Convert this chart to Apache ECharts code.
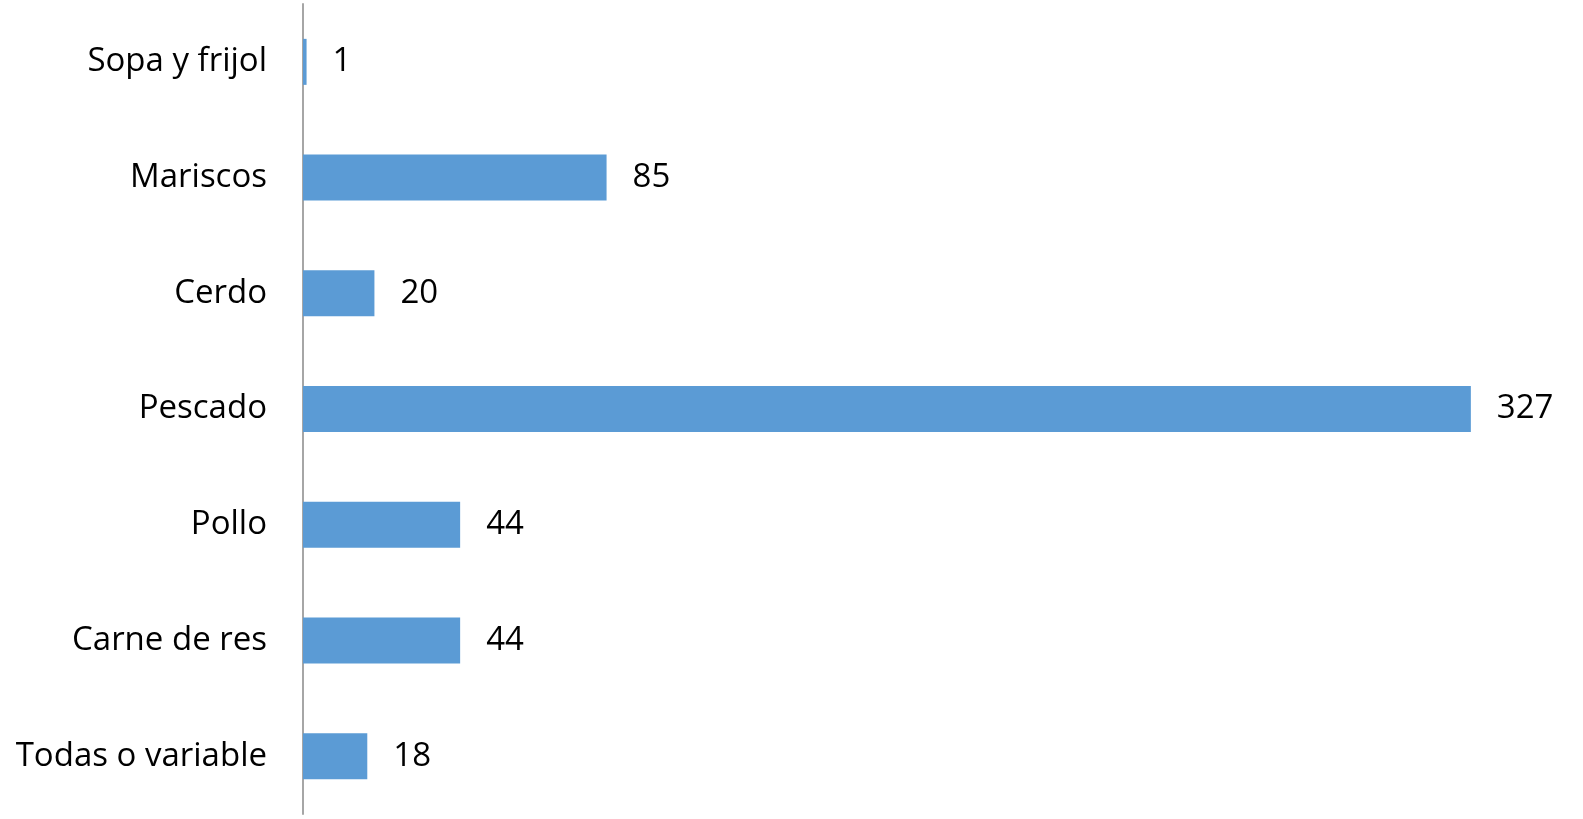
<!DOCTYPE html>
<html>
<head>
<meta charset="utf-8">
<script src="https://cdn.jsdelivr.net/npm/echarts@6/dist/echarts.min.js"></script>
<style>
  html, body { margin: 0; padding: 0; background: #fff; }
  #chart { width: 1583px; height: 819px; }
</style>
</head>
<body>
<div id="chart"></div>
<script>
// Dishes, listed bottom-to-top as they appear on the category axis
const categories = ['Todas o variable', 'Carne de res', 'Pollo', 'Pescado', 'Cerdo', 'Mariscos', 'Sopa y frijol'];
const counts = [18, 44, 44, 327, 20, 85, 1];

const chart = echarts.init(document.getElementById('chart'));
chart.setOption({
  animation: false,
  grid: { left: 303, right: 30, top: 4, bottom: 5 },
  xAxis: {
    type: 'value',
    min: 0,
    max: 350,
    show: false
  },
  yAxis: {
    type: 'category',
    data: categories,
    axisLine: { show: true, lineStyle: { color: '#A6A6A6', width: 2 } },
    axisTick: { show: false },
    axisLabel: {
      color: '#000',
      fontFamily: 'Open Sans',
      fontSize: 33,
      margin: 36
    }
  },
  series: [{
    type: 'bar',
    data: counts,
    barWidth: 46,
    itemStyle: { color: '#5B9BD5' },
    label: {
      show: true,
      position: 'right',
      distance: 26,
      color: '#000',
      fontFamily: 'Open Sans',
      fontSize: 33
    }
  }]
});
</script>
</body>
</html>
